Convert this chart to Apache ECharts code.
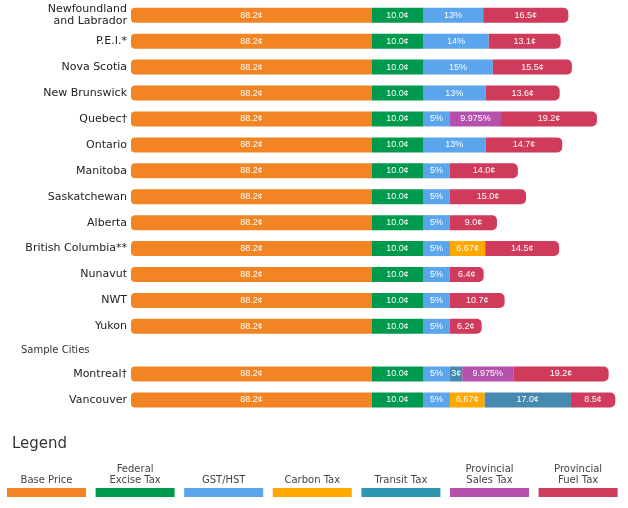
<!DOCTYPE html>
<html>
<head>
<meta charset="utf-8">
<script src="https://cdn.jsdelivr.net/npm/echarts@6/dist/echarts.min.js"></script>
<style>
html,body{margin:0;padding:0;background:#fff;}
#chart{width:628px;height:508px;}
</style>
</head>
<body>
<div id="chart"></div>
<script>
// ---- data ----
var provinces = ['Newfoundland\nand Labrador','P.E.I.*','Nova Scotia','New Brunswick','Quebec\u2020','Ontario','Manitoba','Saskatchewan','Alberta','British Columbia**','Nunavut','NWT','Yukon'];
var cities = ['Montreal\u2020','Vancouver'];
var groupTitle = 'Sample Cities';

// rows: 13 provinces followed by 2 cities
var basePrice   = [88.2,88.2,88.2,88.2,88.2,88.2,88.2,88.2,88.2,88.2,88.2,88.2,88.2, 88.2,88.2];
var baseLabel   = ['88.2¢','88.2¢','88.2¢','88.2¢','88.2¢','88.2¢','88.2¢','88.2¢','88.2¢','88.2¢','88.2¢','88.2¢','88.2¢','88.2¢','88.2¢'];
var exciseTax   = [10.0,10.0,10.0,10.0,10.0,10.0,10.0,10.0,10.0,10.0,10.0,10.0,10.0, 10.0,10.0];
var exciseLabel = ['10.0¢','10.0¢','10.0¢','10.0¢','10.0¢','10.0¢','10.0¢','10.0¢','10.0¢','10.0¢','10.0¢','10.0¢','10.0¢','10.0¢','10.0¢'];
// GST/HST amount in cents (as drawn) and its label
var gstCents    = [11.8,12.9,13.7,12.3,5.3,12.3,5.3,5.3,5.3,5.3,5.3,5.3,5.3, 5.3,5.3];
var gstLabel    = ['13%','14%','15%','13%','5%','13%','5%','5%','5%','5%','5%','5%','5%','5%','5%'];
var carbonCents = [null,null,null,null,null,null,null,null,null,6.9,null,null,null, null,6.8];
var carbonLabel = ['','','','','','','','','','6.67¢','','','','','6.67¢'];
var transitCents= [null,null,null,null,null,null,null,null,null,null,null,null,null, 2.4,16.9];
var transitLabel= ['','','','','','','','','','','','','','3¢','17.0¢'];
var pstCents    = [null,null,null,null,10.0,null,null,null,null,null,null,null,null, 10.0,null];
var pstLabel    = ['','','','','9.975%','','','','','','','','','9.975%',''];
var fuelCents   = [16.7,14.1,15.5,14.5,18.8,15.0,13.3,14.9,9.2,14.5,6.6,10.7,6.2, 18.7,8.7];
var fuelLabel   = ['16.5¢','13.1¢','15.5¢','13.6¢','19.2¢','14.7¢','14.0¢','15.0¢','9.0¢','14.5¢','6.4¢','10.7¢','6.2¢','19.2¢','8.5¢'];

var legendNames = ['Base Price','Federal\nExcise Tax','GST/HST','Carbon Tax','Transit Tax','Provincial\nSales Tax','Provincial\nFuel Tax'];
var legendColors= ['#F28424','#009A4E','#5AA5EC','#FFA800','#2E96B1','#B650AD','#D03B5C'];
var legendTitle = 'Legend';

// ---- chart ----
var chart = echarts.init(document.getElementById('chart'), null, {renderer:'canvas'});
var nP = provinces.length;
var labelFont = {color:'#fff', fontSize:9, fontFamily:'Liberation Sans, Arial, sans-serif'};

var taxDefs = [
  {name:'Federal Excise Tax', vals:exciseTax,  labels:exciseLabel,  color:'#009A4E'},
  {name:'GST/HST',            vals:gstCents,   labels:gstLabel,     color:'#5AA5EC'},
  {name:'Carbon Tax',         vals:carbonCents,labels:carbonLabel,  color:'#FFA800'},
  {name:'Transit Tax',        vals:transitCents,labels:transitLabel,color:'#4689AF'},
  {name:'Provincial Sales Tax',vals:pstCents,  labels:pstLabel,     color:'#B650AD'},
  {name:'Provincial Fuel Tax',vals:fuelCents,  labels:fuelLabel,    color:'#D03B5C', last:true}
];

function makeLabel(labels, offset){
  return {show:true, position:'inside', formatter:function(p){return labels[p.dataIndex+offset];}, 
          color:labelFont.color, fontSize:labelFont.fontSize, fontFamily:labelFont.fontFamily};
}

var series = [];
var groups = [
  {offset:0, n:nP, leftGrid:0, rightGrid:1, stack:'p'},
  {offset:nP, n:cities.length, leftGrid:2, rightGrid:3, stack:'c'}
];
groups.forEach(function(g){
  series.push({
    type:'bar', name:'Base Price', xAxisIndex:g.leftGrid, yAxisIndex:g.leftGrid,
    data: basePrice.slice(g.offset, g.offset+g.n),
    barWidth:15, itemStyle:{color:'#F28424', borderRadius:[4,0,0,4]},
    label: makeLabel(baseLabel, g.offset), silent:true
  });
  taxDefs.forEach(function(t){
    series.push({
      type:'bar', name:t.name, stack:g.stack, xAxisIndex:g.rightGrid, yAxisIndex:g.rightGrid,
      data: t.vals.slice(g.offset, g.offset+g.n).map(function(v){return v==null?'-':v;}),
      barWidth:15, itemStyle:{color:t.color, borderRadius: t.last?[0,5,5,0]:0},
      label: makeLabel(t.labels, g.offset), silent:true
    });
  });
});

var yLabelStyle = {color:'#222', fontSize:11, fontFamily:'DejaVu Sans, sans-serif', margin:4, lineHeight:12};
var leftW = 241, rightLeft = 372, rightW = 255;
var topP = 2.3, hP = 337, topC = 361, hC = 52;

var legendGraphics = [{
  type:'text', left:12, top:437,
  style:{text:legendTitle, fill:'#333', font:'15px "DejaVu Sans", sans-serif'}
}, {
  type:'text', left:21, top:345,
  style:{text:groupTitle, fill:'#333', font:'10px "DejaVu Sans", sans-serif'}
}];
legendNames.forEach(function(nm, i){
  var x = 7 + i*88.6;
  legendGraphics.push({type:'rect', shape:{x:x, y:488, width:79, height:9}, style:{fill:legendColors[i]}});
  legendGraphics.push({type:'text', x:x+39.5, y:486,
    style:{text:nm, fill:'#444', font:'10px "DejaVu Sans", sans-serif', align:'center', verticalAlign:'bottom', lineHeight:11}});
});

chart.setOption({
  animation:false,
  backgroundColor:'#fff',
  grid:[
    {left:131, width:leftW, top:topP, height:hP},
    {left:rightLeft, width:rightW, top:topP, height:hP},
    {left:131, width:leftW, top:topC, height:hC},
    {left:rightLeft, width:rightW, top:topC, height:hC}
  ],
  xAxis:[
    {gridIndex:0, type:'value', min:0, max:88.2, show:false},
    {gridIndex:1, type:'value', min:0, max:50, show:false},
    {gridIndex:2, type:'value', min:0, max:88.2, show:false},
    {gridIndex:3, type:'value', min:0, max:50, show:false}
  ],
  yAxis:[
    {gridIndex:0, type:'category', data:provinces, inverse:true, axisLine:{show:false}, axisTick:{show:false}, axisLabel:yLabelStyle},
    {gridIndex:1, type:'category', data:provinces, inverse:true, show:false},
    {gridIndex:2, type:'category', data:cities, inverse:true, axisLine:{show:false}, axisTick:{show:false}, axisLabel:yLabelStyle},
    {gridIndex:3, type:'category', data:cities, inverse:true, show:false}
  ],
  series:series,
  graphic:legendGraphics
});
</script>
</body>
</html>
